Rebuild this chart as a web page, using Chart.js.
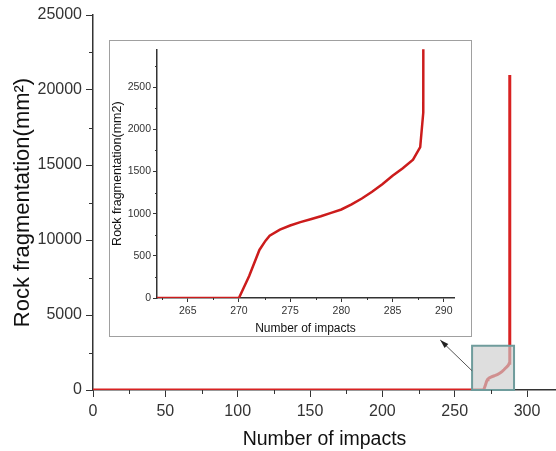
<!DOCTYPE html>
<html>
<head>
<meta charset="utf-8">
<script src="https://cdn.jsdelivr.net/npm/chart.js@4/dist/chart.umd.min.js"></script>
<style>
    body { margin: 0; background: #fff; }
    #wrap { position: relative; width: 556px; height: 451px; }
    #mainChart { position: absolute; left: 0; top: 0; }
    #insetBox { position: absolute; left: 109px; top: 40px; width: 361px; height: 295px;
                border: 1px solid #a0a0a0; background: #fff; }
    #insetChart { position: absolute; left: 0; top: 0; }
</style>
</head>
<body>
<div id="wrap">
    <canvas id="mainChart" width="556" height="451"></canvas>
    <div id="insetBox"><canvas id="insetChart" width="361" height="295"></canvas></div>
</div>
<script>
// data
const impacts = [0, 270, 271, 272, 272.6, 273, 274, 275, 276, 277, 278, 279, 280, 281, 282, 283, 284, 285, 286, 287, 287.7, 288, 288.1];
const fragmentation = [0, 0, 260, 570, 680, 740, 810, 860, 900, 935, 970, 1010, 1050, 1110, 1180, 1260, 1350, 1450, 1540, 1640, 1790, 2200, 21000];

// tick labels
const mainXLabels = [0, 50, 100, 150, 200, 250, 300];
const mainYLabels = [0, 5000, 10000, 15000, 20000, 25000];
const insetXLabels = [265, 270, 275, 280, 285, 290];
const insetYLabels = [0, 500, 1000, 1500, 2000, 2500];

const mainXRange = [0, 320], mainYRange = [0, 25000];
const insetXRange = [262, 291], insetYRange = [0, 2950];

// zoomed region marked on the main chart
const zoomX = [262, 291];
const zoomY = [0, 2950];
const arrowFrom = [262, 1280];
const arrowTo = [240, 3330];

const axisColor = '#333';
const points = impacts.map((x, i) => ({ x: x, y: fragmentation[i] }));

// chart.js has no minor ticks, so draw them by hand halfway between majors
const minorTicks = {
    id: 'minorTicks',
    afterDraw(chart, args, opts) {
        const c = chart.ctx;
        const xs = chart.scales.x, ys = chart.scales.y;
        c.save();
        c.strokeStyle = axisColor;
        c.lineWidth = 1;
        const xt = opts.xLabels, yt = opts.yLabels;
        const dx = (xt[1] - xt[0]) / 2, dy = (yt[1] - yt[0]) / 2;
        [xt[0] - dx].concat(xt.map(v => v + dx)).forEach(v => {
            if (v < xs.min || v > xs.max) return;
            const px = Math.round(xs.getPixelForValue(v)) + 0.5;
            c.beginPath();
            c.moveTo(px, xs.top);
            c.lineTo(px, xs.top + opts.len);
            c.stroke();
        });
        yt.map(v => v + dy).forEach(v => {
            if (v < ys.min || v > ys.max) return;
            const py = Math.round(ys.getPixelForValue(v)) + 0.5;
            c.beginPath();
            c.moveTo(ys.right, py);
            c.lineTo(ys.right - opts.len, py);
            c.stroke();
        });
        c.restore();
    }
};

const zoomMarker = {
    id: 'zoomMarker',
    afterDatasetsDraw(chart) {
        const c = chart.ctx;
        const xs = chart.scales.x, ys = chart.scales.y;
        const x0 = xs.getPixelForValue(zoomX[0]), x1 = xs.getPixelForValue(zoomX[1]);
        const y0 = ys.getPixelForValue(zoomY[1]), y1 = ys.getPixelForValue(zoomY[0]);
        c.save();
        c.fillStyle = 'rgba(205, 205, 205, 0.65)';
        c.fillRect(x0, y0, x1 - x0, y1 - y0);
        c.strokeStyle = '#6f9c9c';
        c.lineWidth = 2;
        c.strokeRect(x0, y0, x1 - x0, y1 - y0);

        const ax = xs.getPixelForValue(arrowFrom[0]), ay = ys.getPixelForValue(arrowFrom[1]);
        const bx = xs.getPixelForValue(arrowTo[0]), by = ys.getPixelForValue(arrowTo[1]);
        c.strokeStyle = '#555';
        c.fillStyle = '#222';
        c.lineWidth = 1;
        c.beginPath();
        c.moveTo(ax, ay);
        c.lineTo(bx, by);
        c.stroke();
        const ang = Math.atan2(by - ay, bx - ax);
        c.beginPath();
        c.moveTo(bx, by);
        c.lineTo(bx - 9 * Math.cos(ang - 0.3), by - 9 * Math.sin(ang - 0.3));
        c.lineTo(bx - 9 * Math.cos(ang + 0.3), by - 9 * Math.sin(ang + 0.3));
        c.closePath();
        c.fill();
        c.restore();
    }
};

function axis(range, labels, fontSize, tickLen, pad, title, titleSize, titlePad, fit) {
    return {
        type: 'linear',
        min: range[0],
        max: range[1],
        afterBuildTicks: s => { s.ticks = labels.map(v => ({ value: v })); },
        ticks: {
            color: axisColor,
            padding: pad,
            maxRotation: 0,
            autoSkip: false,
            callback: v => String(v),
            font: { family: 'Liberation Sans, Arial, sans-serif', size: fontSize }
        },
        grid: { drawOnChartArea: false, drawTicks: true, tickLength: tickLen, color: axisColor, tickWidth: 1 },
        border: { color: axisColor, width: 1.5 },
        title: {
            display: true,
            text: title,
            color: '#111',
            padding: titlePad,
            font: { family: 'Liberation Sans, Arial, sans-serif', size: titleSize }
        },
        afterFit: fit
    };
}

new Chart(document.getElementById('mainChart'), {
    type: 'scatter',
    data: {
        datasets: [{
            data: points,
            showLine: true,
            borderColor: '#d82222',
            borderWidth: 3,
            pointRadius: 0,
            tension: 0
        }]
    },
    options: {
        responsive: false,
        animation: false,
        layout: { padding: { top: 15, right: 0, left: 0, bottom: 0 } },
        plugins: {
            legend: { display: false },
            tooltip: { enabled: false },
            minorTicks: { xLabels: mainXLabels, yLabels: mainYLabels, len: 4 }
        },
        scales: {
            x: axis(mainXRange, mainXLabels, 16, 7, 5, 'Number of impacts', 19.5, { top: 0, bottom: 0 }, s => { s.height = 61; }),
            y: axis(mainYRange, mainYLabels, 16, 7, 4, 'Rock fragmentation(mm²)', 22, { top: 10, bottom: 0 }, s => { s.width = 93; })
        }
    },
    plugins: [minorTicks, zoomMarker]
});

new Chart(document.getElementById('insetChart'), {
    type: 'scatter',
    data: {
        datasets: [{
            data: points,
            showLine: true,
            borderColor: '#cc1c1c',
            borderWidth: 2.5,
            pointRadius: 0,
            tension: 0
        }]
    },
    options: {
        responsive: false,
        animation: false,
        layout: { padding: { top: 3, right: 17, left: 0, bottom: 0 } },
        plugins: {
            legend: { display: false },
            tooltip: { enabled: false },
            minorTicks: { xLabels: insetXLabels, yLabels: insetYLabels, len: 2 }
        },
        scales: {
            x: axis(insetXRange, insetXLabels, 10.5, 4, 3, 'Number of impacts', 12, { top: 0, bottom: 0 }, s => { s.height = 38; }),
            y: axis(insetYRange, insetYLabels, 10.5, 4, 2, 'Rock fragmentation(mm2)', 12.5, { top: 0, bottom: 0 }, s => { s.width = 47; })
        }
    },
    plugins: [minorTicks]
});
</script>
</body>
</html>
